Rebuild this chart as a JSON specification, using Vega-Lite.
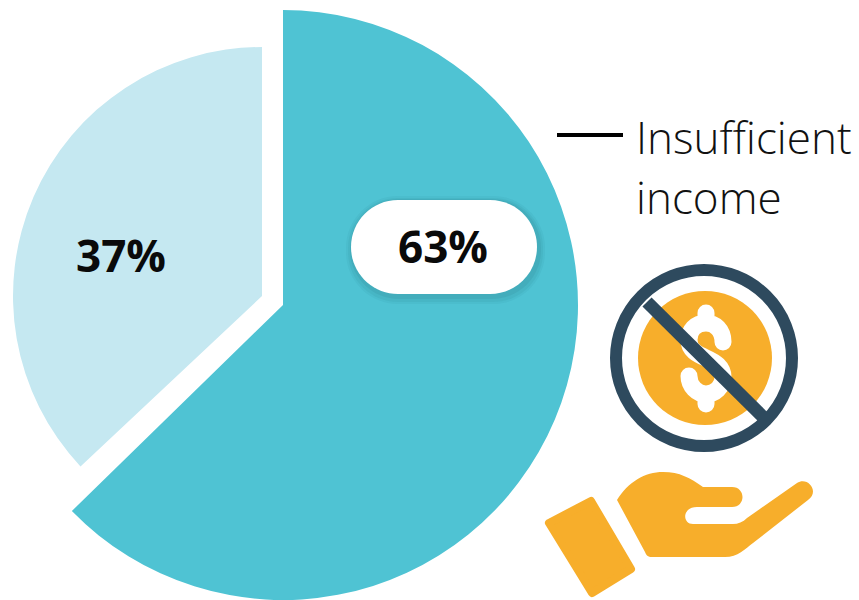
{
  "$schema": "https://vega.github.io/schema/vega-lite/v6.json",
  "width": 859, "height": 600, "padding": 0,
  "autosize": {"type": "fit", "contains": "padding"},
  "background": "white",
  "config": {"view": {"stroke": null}, "axis": {"disable": true}},
  "data": {"values": [
    {"label": "Insufficient income", "value": 0.63},
    {"label": "Other", "value": 0.37}
  ]},
  "transform": [{"stack": "value", "groupby": [], "as": ["t0", "t1"]}],
  "resolve": {"scale": {"theta": "independent"}},
  "layer": [
    {
      "transform": [{"filter": "datum.label === 'Other'"}],
      "mark": {"type": "arc", "outerRadius": 249, "innerRadius": 0, "fill": "#c5e8f1"},
      "encoding": {
        "x": {"datum": 262, "type": "quantitative", "scale": {"domain": [0, 859], "nice": false, "zero": false}},
        "y": {"datum": 296, "type": "quantitative", "scale": {"domain": [0, 600], "reverse": true, "nice": false, "zero": false}},
        "theta": {"field": "t0", "type": "quantitative", "scale": {"domain": [0, 1], "range": [0, 6.28319]}},
        "theta2": {"field": "t1"}
      }
    },
    {
      "transform": [{"filter": "datum.label !== 'Other'"}],
      "mark": {"type": "arc", "outerRadius": 295, "innerRadius": 0, "fill": "#4fc3d3"},
      "encoding": {
        "x": {"datum": 283, "type": "quantitative"},
        "y": {"datum": 305, "type": "quantitative"},
        "theta": {"field": "t0", "type": "quantitative", "scale": {"domain": [0, 0.63], "range": [0, 3.9393]}},
        "theta2": {"field": "t1"}
      }
    },
    {
      "data": {"values": [{"part": "shadow"}]},
      "transform": [],
      "mark": {"type": "rect", "fill": "#164f5a", "cornerRadius": 52, "opacity": 0.05},
      "encoding": {
        "x": {"datum": 346, "type": "quantitative"},
        "x2": {"datum": 545},
        "y": {"datum": 196, "type": "quantitative"},
        "y2": {"datum": 304}
      }
    },
    {
      "data": {"values": [{"part": "shadow"}]},
      "transform": [],
      "mark": {"type": "rect", "fill": "#164f5a", "cornerRadius": 50, "opacity": 0.06},
      "encoding": {
        "x": {"datum": 348, "type": "quantitative"},
        "x2": {"datum": 543},
        "y": {"datum": 198, "type": "quantitative"},
        "y2": {"datum": 302}
      }
    },
    {
      "data": {"values": [{"part": "shadow"}]},
      "transform": [],
      "mark": {"type": "rect", "fill": "#164f5a", "cornerRadius": 49, "opacity": 0.08},
      "encoding": {
        "x": {"datum": 350, "type": "quantitative"},
        "x2": {"datum": 541},
        "y": {"datum": 199, "type": "quantitative"},
        "y2": {"datum": 299}
      }
    },
    {
      "data": {"values": [{"part": "pill"}]},
      "transform": [],
      "mark": {"type": "rect", "fill": "white", "cornerRadius": 47},
      "encoding": {
        "x": {"datum": 351, "type": "quantitative"},
        "x2": {"datum": 537},
        "y": {"datum": 200, "type": "quantitative"},
        "y2": {"datum": 294}
      }
    },
    {
      "transform": [{"filter": "datum.label === 'Other'"}],
      "mark": {"type": "text", "font": "Open Sans", "fontWeight": 700, "fontSize": 44, "color": "#0a0a0a", "align": "center", "baseline": "alphabetic"},
      "encoding": {
        "x": {"datum": 121, "type": "quantitative"},
        "y": {"datum": 272, "type": "quantitative"},
        "text": {"field": "value", "type": "quantitative", "format": ".0%"}
      }
    },
    {
      "transform": [{"filter": "datum.label !== 'Other'"}],
      "mark": {"type": "text", "font": "Open Sans", "fontWeight": 700, "fontSize": 44, "color": "#0a0a0a", "align": "center", "baseline": "alphabetic"},
      "encoding": {
        "x": {"datum": 443, "type": "quantitative"},
        "y": {"datum": 263, "type": "quantitative"},
        "text": {"field": "value", "type": "quantitative", "format": ".0%"}
      }
    },
    {
      "transform": [{"filter": "datum.label !== 'Other'"}],
      "mark": {"type": "rule", "color": "black", "strokeWidth": 4},
      "encoding": {
        "x": {"datum": 557, "type": "quantitative"},
        "x2": {"datum": 623},
        "y": {"datum": 135, "type": "quantitative"}
      }
    },
    {
      "transform": [{"filter": "datum.label !== 'Other'"}],
      "mark": {"type": "text", "font": "Open Sans", "fontWeight": 300, "fontSize": 44, "color": "#111111", "align": "left", "baseline": "alphabetic", "lineBreak": " ", "lineHeight": 60},
      "encoding": {
        "x": {"datum": 636, "type": "quantitative"},
        "y": {"datum": 154, "type": "quantitative"},
        "text": {"field": "label", "type": "nominal"}
      }
    },
    {
      "data": {"values": [{"part": "coin"}]},
      "transform": [],
      "mark": {"type": "point", "shape": "circle", "filled": true, "fill": "#f7ae2b", "opacity": 1, "size": 17956},
      "encoding": {"x": {"datum": 705, "type": "quantitative"}, "y": {"datum": 358, "type": "quantitative"}}
    },
    {
      "data": {"values": [{"part": "dollar"}]},
      "transform": [],
      "mark": {"type": "point", "shape": "M17 -16 C17 -28 9 -35 0 -35 C-11 -35 -17 -27 -17 -18 C-17 -8 -9 -4 0 0 C9 4 17 9 17 19 C17 29 9 36 0 36 C-9 36 -17 28 -17 18 M0 -35 L0 -45 M0 36 L0 46", "filled": false, "fill": null, "stroke": "white", "strokeWidth": 17, "strokeCap": "round", "opacity": 1, "size": 4},
      "encoding": {"x": {"datum": 706, "type": "quantitative"}, "y": {"datum": 358, "type": "quantitative"}}
    },
    {
      "data": {"values": [{"part": "ring"}]},
      "transform": [],
      "mark": {"type": "point", "shape": "circle", "filled": false, "fill": null, "stroke": "#2e4a5e", "strokeWidth": 12, "opacity": 1, "size": 30976},
      "encoding": {"x": {"datum": 704, "type": "quantitative"}, "y": {"datum": 358, "type": "quantitative"}}
    },
    {
      "data": {"values": [{"part": "bar"}]},
      "transform": [],
      "mark": {"type": "point", "shape": "M-58 -56 L58 59", "filled": false, "fill": null, "stroke": "#2e4a5e", "strokeWidth": 13, "opacity": 1, "size": 4},
      "encoding": {"x": {"datum": 705, "type": "quantitative"}, "y": {"datum": 358, "type": "quantitative"}}
    },
    {
      "data": {"values": [{"part": "hand"}]},
      "transform": [],
      "mark": {"type": "point", "shape": "M-63 -30 C-52 -48 -35 -58 -17 -58 C0 -58 10 -52 23 -43 L52 -43 C66 -43 66 -23 52 -23 L17 -23 C2 -23 2 -6 13 -6 L53 -6 C58 -6 63 -8 67 -12 L117 -47 C128 -54 140 -38 128 -30 L73 13 C65 19 58 27 45 27 L-28 27 C-32 27 -34 25 -35 22 Z", "filled": true, "fill": "#f7ae2b", "opacity": 1, "size": 4},
      "encoding": {"x": {"datum": 680, "type": "quantitative"}, "y": {"datum": 530, "type": "quantitative"}}
    },
    {
      "data": {"values": [{"part": "cuff"}]},
      "transform": [],
      "mark": {"type": "point", "shape": "M-131 -7 L-89 -29 L-49 39 L-88 63 Z", "filled": true, "fill": "#f7ae2b", "stroke": "#f7ae2b", "strokeWidth": 8, "strokeJoin": "round", "opacity": 1, "size": 4},
      "encoding": {"x": {"datum": 680, "type": "quantitative"}, "y": {"datum": 530, "type": "quantitative"}}
    }
  ]
}
